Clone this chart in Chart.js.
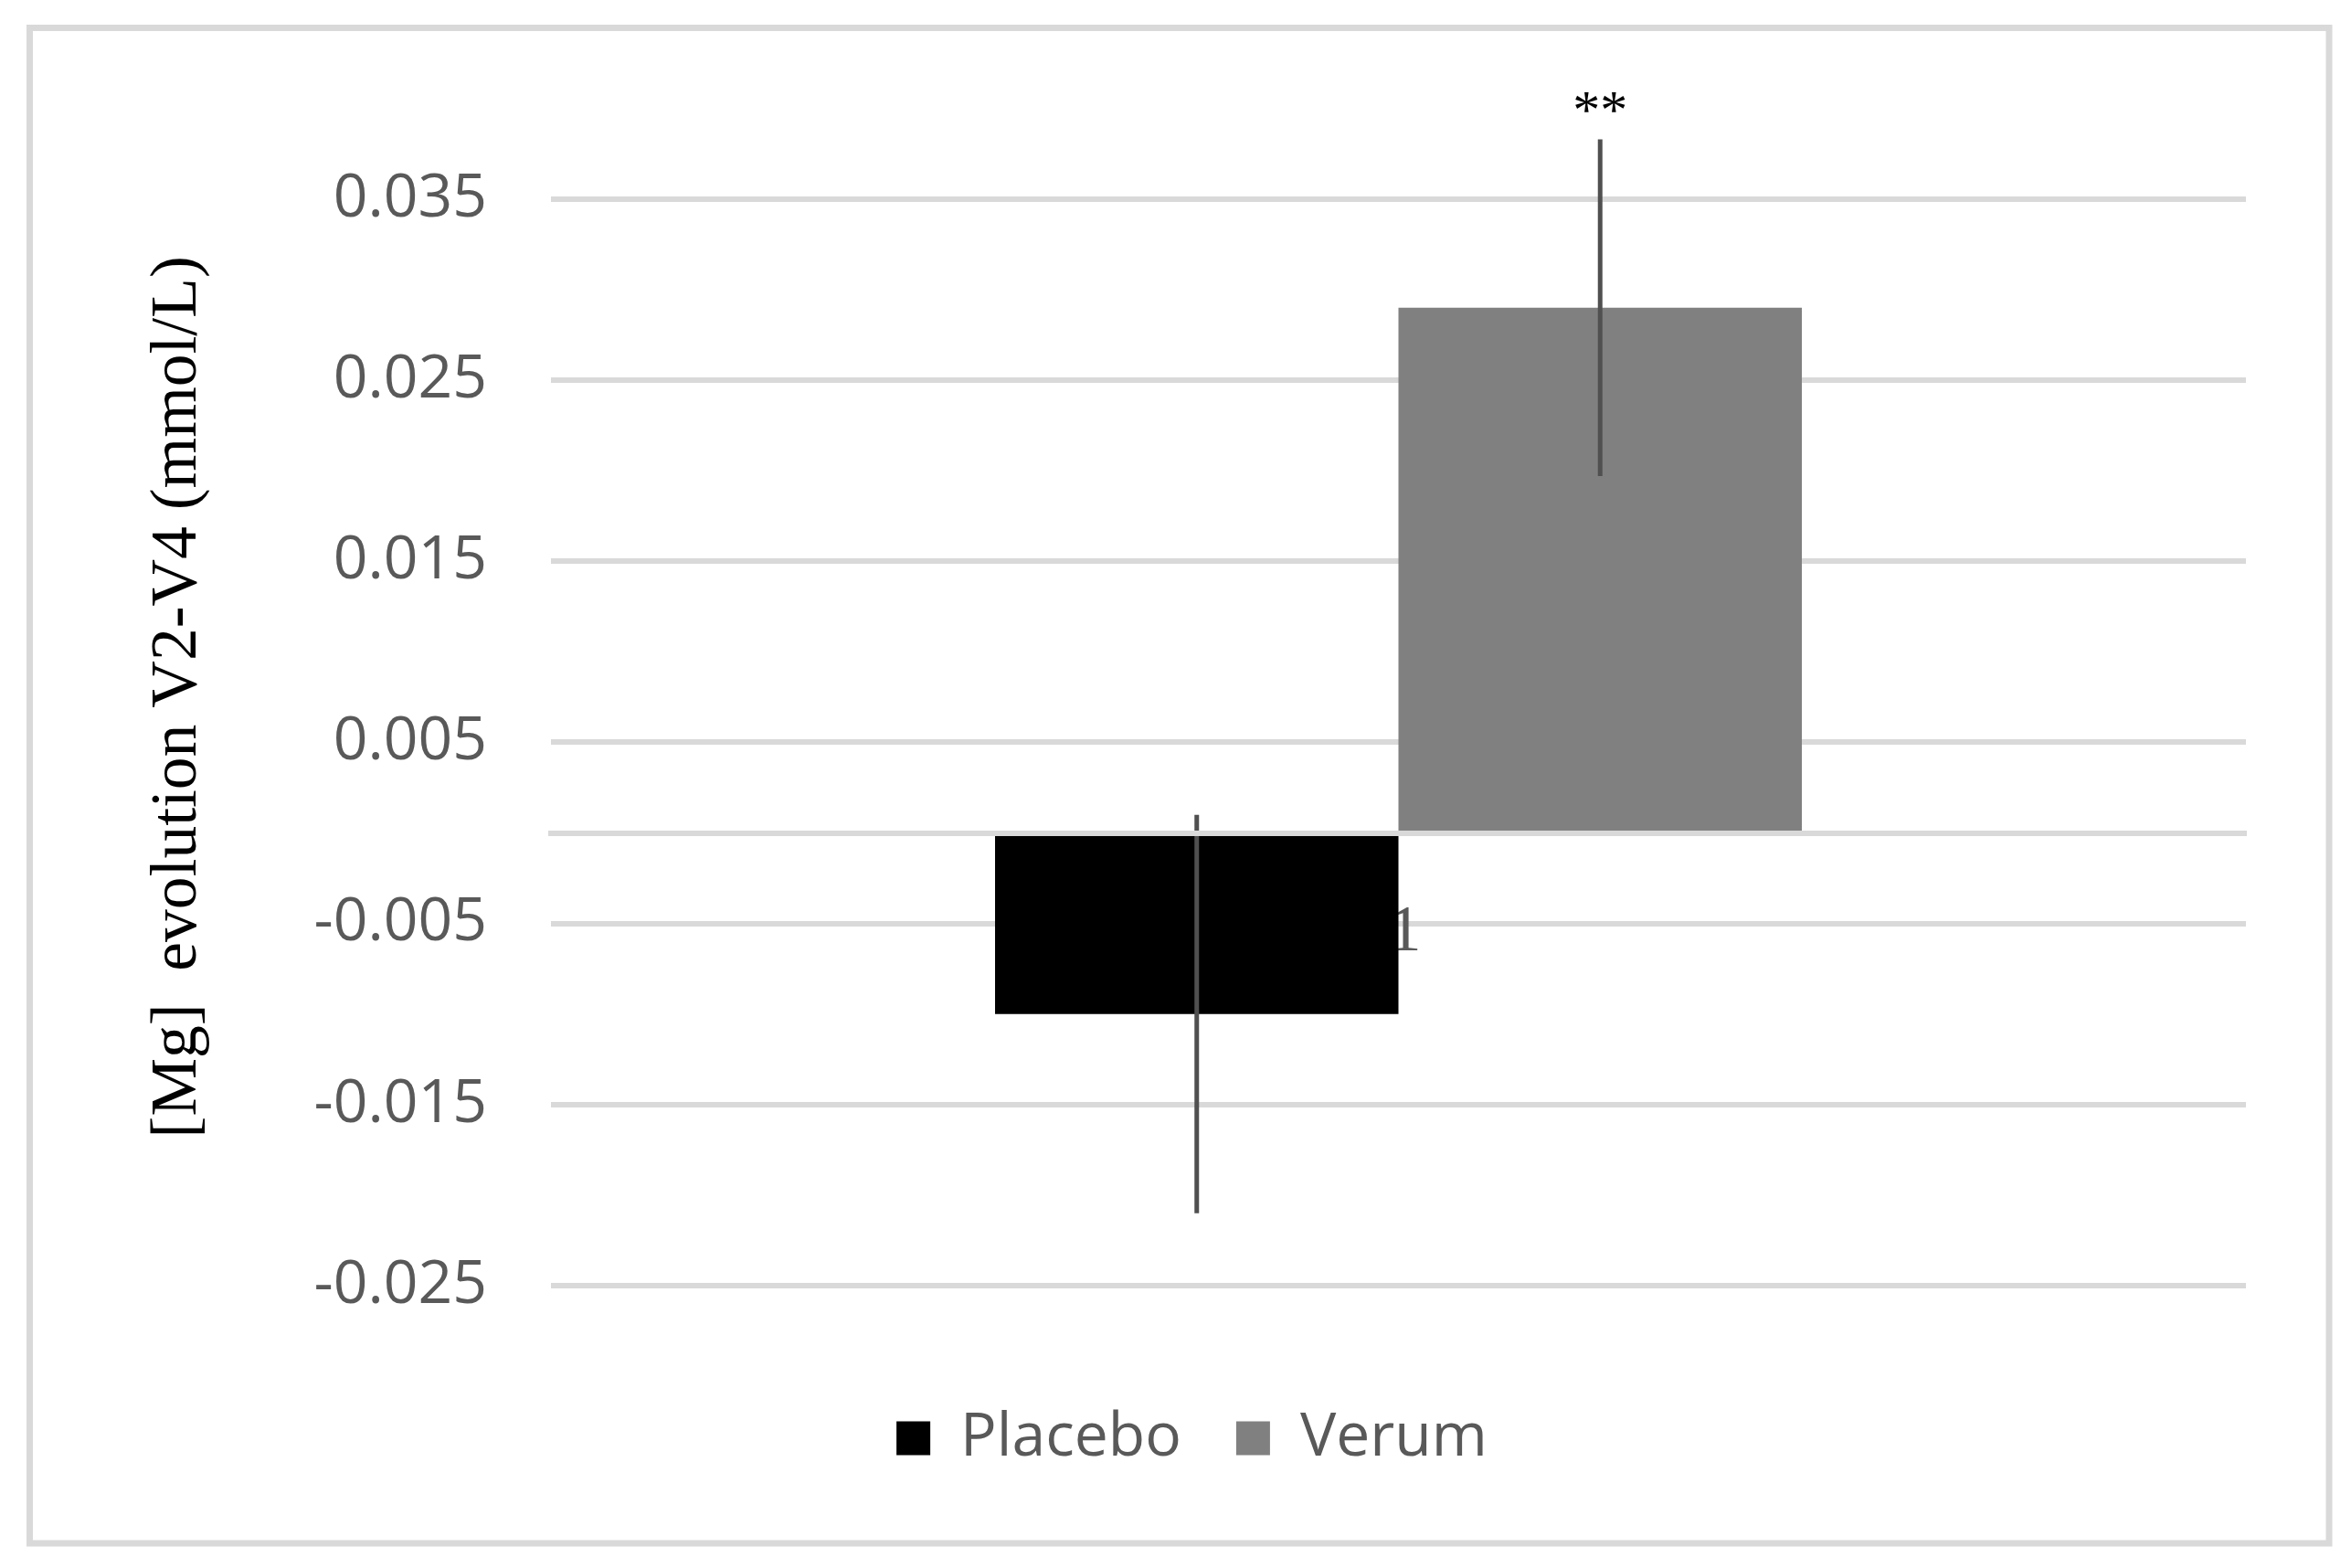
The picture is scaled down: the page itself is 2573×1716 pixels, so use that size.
<!DOCTYPE html>
<html>
<head>
<meta charset="utf-8">
<script src="https://cdn.jsdelivr.net/npm/chart.js@4.4.1/dist/chart.umd.min.js"></script>
<style>
  html, body { margin: 0; padding: 0; background: #ffffff; }
  #wrap { position: absolute; left: 0; top: 0; width: 2573px; height: 1716px; }
</style>
</head>
<body>
<div id="wrap"><canvas id="c" width="2573" height="1716"></canvas></div>
<script>
// ---- data ----
const categories = ['1'];
const seriesNames = ['Placebo', 'Verum'];
const placeboMean = [-0.010];
const verumMean = [0.029];
const placeboErr = [0.011];
const verumErr = [0.0093];
const significance = ['', '**'];
const yTickValues = [-0.025, -0.015, -0.005, 0.005, 0.015, 0.025, 0.035];
const yAxisTitle = '[Mg]  evolution V2-V4 (mmol/L)';
const seriesColors = ['#000000', '#808080'];

const errors = [placeboErr, verumErr];

const frameBorder = {
  id: 'frameBorder',
  beforeDraw(chart) {
    const ctx = chart.ctx;
    ctx.save();
    ctx.fillStyle = '#ffffff';
    ctx.fillRect(0, 0, chart.width, chart.height);
    ctx.strokeStyle = '#d9d9d9';
    ctx.lineWidth = 7;
    ctx.strokeRect(32.5, 30.5, 2516.5, 1658.5);
    ctx.restore();
  }
};

const errorBars = {
  id: 'errorBars',
  afterDatasetsDraw(chart) {
    const ctx = chart.ctx;
    const yScale = chart.scales.y;
    ctx.save();
    chart.data.datasets.forEach((ds, i) => {
      const meta = chart.getDatasetMeta(i);
      meta.data.forEach((bar, j) => {
        const v = ds.data[j];
        const e = errors[i][j];
        const yTop = yScale.getPixelForValue(v + e);
        const yBot = yScale.getPixelForValue(v - e);
        ctx.strokeStyle = '#505050';
        ctx.lineWidth = 5;
        ctx.lineCap = 'butt';
        ctx.beginPath();
        ctx.moveTo(bar.x, yTop);
        ctx.lineTo(bar.x, yBot);
        ctx.stroke();
        if (significance[i]) {
          ctx.fillStyle = '#000000';
          ctx.font = '60px "Liberation Serif"';
          ctx.textAlign = 'center';
          ctx.textBaseline = 'alphabetic';
          ctx.fillText(significance[i], bar.x, yTop - 12);
        }
      });
    });
    ctx.restore();
  }
};

new Chart(document.getElementById('c'), {
  type: 'bar',
  data: {
    labels: categories,
    datasets: [
      { label: seriesNames[0], data: placeboMean, backgroundColor: seriesColors[0], borderWidth: 0 },
      { label: seriesNames[1], data: verumMean, backgroundColor: seriesColors[1], borderWidth: 0 }
    ]
  },
  options: {
    responsive: false,
    animation: false,
    devicePixelRatio: 1,
    categoryPercentage: 0.476,
    barPercentage: 1.0,
    layout: { padding: { left: 151, right: 115, top: 118.7, bottom: 99 } },
    plugins: {
      tooltip: { enabled: false },
      legend: {
        position: 'bottom',
        title: { display: true, text: '', font: { size: 12 }, padding: { top: 0, bottom: 59.6 } },
        labels: {
          boxWidth: 37,
          boxHeight: 37,
          padding: 60,
          color: '#595959',
          font: { family: '"Open Sans"', size: 66 }
        }
      }
    },
    scales: {
      x: {
        type: 'category',
        position: { y: 0 },
        grid: { display: false, drawTicks: false },
        border: { display: true, color: '#d9d9d9', width: 6, z: 1 },
        ticks: {
          color: '#595959',
          padding: 66,
          labelOffset: 7,
          font: { family: '"Liberation Serif"', size: 72 }
        }
      },
      y: {
        min: -0.025,
        max: 0.04,
        afterBuildTicks(scale) { scale.ticks = yTickValues.map(v => ({ value: v })); },
        afterFit(scale) { scale.width = 452; },
        grid: { color: '#d9d9d9', lineWidth: 6, drawTicks: false },
        border: { display: false },
        ticks: {
          color: '#595959',
          padding: 70,
          font: { family: '"Open Sans"', size: 66 },
          callback: (v) => Number(v).toFixed(3)
        },
        title: {
          display: true,
          text: yAxisTitle,
          color: '#000000',
          padding: { top: 1, bottom: 10 },
          font: { family: '"Liberation Serif"', size: 71.5 }
        }
      }
    }
  },
  plugins: [frameBorder, errorBars]
});
</script>
</body>
</html>
